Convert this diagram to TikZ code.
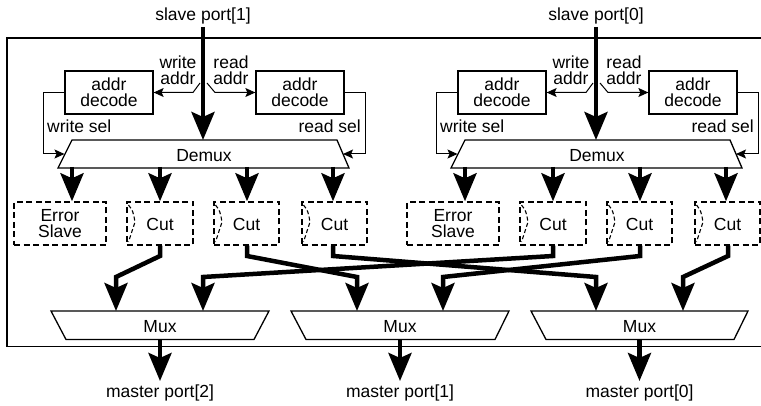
\documentclass[tikz,border=0pt]{standalone}
\usepackage{fontspec}
\setmainfont{Liberation Sans}
\usetikzlibrary{arrows.meta}
\begin{document}
\begin{tikzpicture}[x=1pt,y=-1pt,
  txt/.style={font=\fontsize{17.5}{16}\selectfont, inner sep=0pt},
  lbl/.style={txt, anchor=base},
  mlbl/.style={txt, align=center},
  solidbox/.style={draw, line width=1.3pt, inner sep=0pt, txt, align=center},
  dashbox/.style={draw, line width=1.4pt, dash pattern=on 6pt off 3.5pt, inner sep=0pt, txt, align=center},
  outline/.style={draw, line width=1.3pt, line join=miter},
  bigarrow/.style={line width=4.5pt, -{Stealth[length=28pt,width=23pt,inset=5pt]}},
  smallarrow/.style={line width=1pt, -{Stealth[length=10pt,width=9pt,inset=2pt]}},
  chev/.style={line width=1.1pt, dash pattern=on 4pt off 2.5pt}
]
\useasboundingbox (0,0) rectangle (761,406);
% outer frame (open at the right)
\draw[line width=1.3pt] (761,38) -- (7,38) -- (7,346.5) -- (761,346.5);

\foreach \h/\dx/\p in {A/0/1,B/393/0}{
\begin{scope}[xshift=\dx pt]
  % slave port and thick input
  \node[lbl] (sp\h) at (203,21) {slave port[\p]};
  \coordinate (spt\h) at (203,27);
  \coordinate (dmxtop\h) at (203,140);
  % demux
  \draw[outline] (72,140) -- (337,140) -- (349,168) -- (58,168) -- cycle;
  \node[lbl] (dmx\h) at (204,161.5) {Demux};
  % addr decoders
  \node[solidbox, minimum width=88pt, minimum height=43pt] (wdec\h) at (109,92.5) {addr\\decode};
  \node[solidbox, minimum width=88pt, minimum height=43pt] (rdec\h) at (300,92.5) {addr\\decode};
  \node[mlbl] (wal\h) at (178,70) {write\\addr};
  \node[mlbl] (ral\h) at (231,70) {read\\addr};
  % address split
  \coordinate (wa\h) at (200,83);
  \coordinate (wb\h) at (193,92.5);
  \coordinate (ra\h) at (207,83);
  \coordinate (rb\h) at (215,92.5);
  \draw[smallarrow] (wa\h) -- (wb\h) -- (wdec\h.east);
  \draw[smallarrow] (ra\h) -- (rb\h) -- (rdec\h.west);
  % select lines
  \coordinate (ws1\h) at (43,92.5);
  \coordinate (ws2\h) at (43,154);
  \coordinate (ws3\h) at (64.5,154);
  \coordinate (rs1\h) at (365,92.5);
  \coordinate (rs2\h) at (365,154);
  \coordinate (rs3\h) at (343,154);
  \draw[smallarrow] (wdec\h.west) -- (ws1\h) -- (ws2\h) -- (ws3\h);
  \draw[smallarrow] (rdec\h.east) -- (rs1\h) -- (rs2\h) -- (rs3\h);
  \node[lbl, anchor=base west] (wsl\h) at (47,133) {write sel};
  \node[lbl, anchor=base east] (rsl\h) at (361,133) {read sel};
  \draw[bigarrow] (spt\h) -- (dmxtop\h);
  % targets
  \node[dashbox, minimum width=92pt, minimum height=43pt] (es\h) at (60,223.5) {Error\\Slave};
  \node[dashbox, minimum width=66pt, minimum height=43pt] (c1\h) at (160,223.5) {};
  \node[dashbox, minimum width=65pt, minimum height=43pt] (c2\h) at (246.5,223.5) {};
  \node[dashbox, minimum width=65pt, minimum height=43pt] (c3\h) at (334.5,223.5) {};
  \foreach \c/\xl/\xc in {c1/127/160,c2/214/246.5,c3/302/334.5}{
    \node[lbl] (\c t\h) at (\xc,230.7) {Cut};
    \draw[chev] (\xl+1.5,205) .. controls (\xl+6,211) .. (\xl+8,222) -- (\xl+1.5,242);
  }
  % demux outputs
  \foreach \n/\x in {es/72,c1/160,c2/247,c3/333}{
    \coordinate (do\n\h) at (\x,167);
    \draw[bigarrow] (do\n\h) -- (\n\h.north -| do\n\h);
  }
\end{scope}
}

% muxes
\draw[outline] (51,311) -- (269,311) -- (254,339.5) -- (66,339.5) -- cycle;
\draw[outline] (291,311) -- (509,311) -- (495,339.5) -- (306,339.5) -- cycle;
\draw[outline] (531,311) -- (748,311) -- (734,339.5) -- (546,339.5) -- cycle;
\node[lbl] (m2) at (160,332) {Mux};
\node[lbl] (m1) at (400,332) {Mux};
\node[lbl] (m0) at (639.5,332) {Mux};

% master outputs
\foreach \n/\x in {2/160,1/400,0/639.5}{
  \coordinate (mo\n) at (\x,339);
  \coordinate (mt\n) at (\x,381);
  \draw[bigarrow] (mo\n) -- (mt\n);
  \node[lbl] (mp\n) at (\x,397.5) {master port[\n]};
}

% cut -> mux routing
\coordinate (m2a) at (116,311);
\coordinate (m2b) at (203,311);
\coordinate (m1a) at (357,311);
\coordinate (m1b) at (443,311);
\coordinate (m0a) at (596,311);
\coordinate (m0b) at (683,311);
\draw[bigarrow] (c1A.south -| 160,0) -- (160,256) -- (116,277) -- (m2a);
\draw[bigarrow] (c2A.south -| 247,0) -- (247,256) -- (357,277) -- (m1a);
\draw[bigarrow] (c3A.south -| 333,0) -- (333,256) -- (596,277) -- (m0a);
\draw[bigarrow] (c1B.south -| 553,0) -- (553,256) -- (203,277) -- (m2b);
\draw[bigarrow] (c2B.south -| 640,0) -- (640,256) -- (443,277) -- (m1b);
\draw[bigarrow] (c3B.south -| 728,0) -- (728,256) -- (683,277) -- (m0b);
\end{tikzpicture}
\end{document}
